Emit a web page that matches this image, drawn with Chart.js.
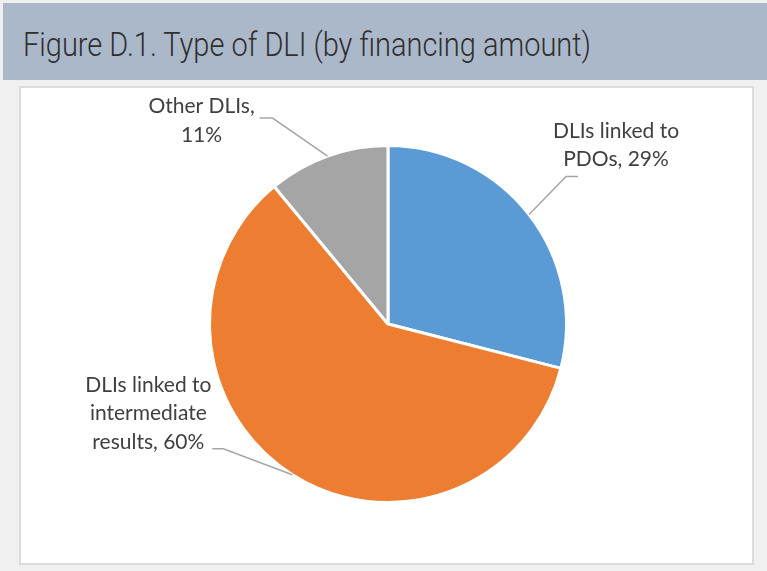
<!DOCTYPE html>
<html>
<head>
<meta charset="utf-8">
<script src="https://cdn.jsdelivr.net/npm/chart.js@4.4.1/dist/chart.umd.min.js"></script>
<style>
  html, body { margin:0; padding:0; }
  body { width:767px; height:571px; background:#f0f0f0; position:relative; overflow:hidden; }
  #header { position:absolute; left:3px; top:3px; width:764px; height:77px; background:#abb8ca; }
  #title { position:absolute; left:20px; top:24px; font-family:"Roboto","Liberation Sans Narrow",sans-serif; font-weight:300; font-size:34px; color:#2f2f2f; white-space:nowrap; transform-origin:0 0; line-height:1; }
  #box { position:absolute; left:19px; top:86px; width:731px; height:475px; background:#fff; border:2px solid #dcdcdc; }
  #wrap { position:absolute; left:0; top:0; width:767px; height:571px; }
</style>
</head>
<body>
<div id="header"><span id="title">Figure D.1. Type of DLI (by financing amount)</span></div>
<div id="box"></div>
<div id="wrap"><canvas id="c" width="767" height="571"></canvas></div>
<script>
// ---- data ----
const categories = ["DLIs linked to PDOs", "DLIs linked to intermediate results", "Other DLIs"];
const shares = [29, 60, 11];
const labelLines = [
  ["DLIs linked to", "PDOs, 29%"],
  ["DLIs linked to", "intermediate", "results, 60%"],
  ["Other DLIs,", "11%"]
];
const colors = ["#5b9bd5", "#ed7d31", "#a5a5a5"];

// title width fit
(function(){
  const t = document.getElementById('title');
  const w = t.getBoundingClientRect().width;
  t.style.transform = 'scaleX(' + (568 / w) + ')';
})();

// label layout (offsets relative to the slice's outer mid-point)
const labelLayout = [
  { elbow:[37,-38], end:12,  text:[87,-77] },
  { elbow:[-69,-26], end:-11, text:[-144,-83] },
  { elbow:[-55,-38], end:-13, text:[-126,-43] }
];

const leaderPlugin = {
  id: 'leaders',
  afterDatasetsDraw(chart) {
    const ctx = chart.ctx;
    const meta = chart.getDatasetMeta(0);
    ctx.save();
    meta.data.forEach((arc, i) => {
      const p = arc.getProps(['x','y','startAngle','endAngle','outerRadius'], true);
      const mid = (p.startAngle + p.endAngle) / 2;
      const ax = p.x + Math.cos(mid) * p.outerRadius;
      const ay = p.y + Math.sin(mid) * p.outerRadius;
      const L = labelLayout[i];
      const ex = ax + L.elbow[0], ey = ay + L.elbow[1];
      ctx.strokeStyle = '#a6a6a6';
      ctx.lineWidth = 1.5;
      ctx.beginPath();
      ctx.moveTo(ax, ay);
      ctx.lineTo(ex, ey);
      ctx.lineTo(ex + L.end, ey);
      ctx.stroke();
      ctx.fillStyle = '#404040';
      ctx.font = '21px Lato, "Open Sans", sans-serif';
      ctx.textAlign = 'center';
      ctx.textBaseline = 'alphabetic';
      const tx = ax + L.text[0];
      let ty = ay + L.text[1];
      labelLines[i].forEach((line, k) => {
        ctx.fillText(line, tx, ty + k * 28.5);
      });
    });
    ctx.restore();
  }
};

new Chart(document.getElementById('c'), {
  type: 'pie',
  data: {
    labels: categories,
    datasets: [{
      data: shares,
      backgroundColor: colors,
      borderColor: '#ffffff',
      borderWidth: 3
    }]
  },
  options: {
    responsive: false,
    animation: false,
    rotation: 0,
    layout: { padding: { left: 208, right: 199, top: 144, bottom: 67 } },
    plugins: {
      legend: { display: false },
      tooltip: { enabled: false },
      title: { display: false }
    },
    events: []
  },
  plugins: [leaderPlugin]
});
</script>
</body>
</html>
